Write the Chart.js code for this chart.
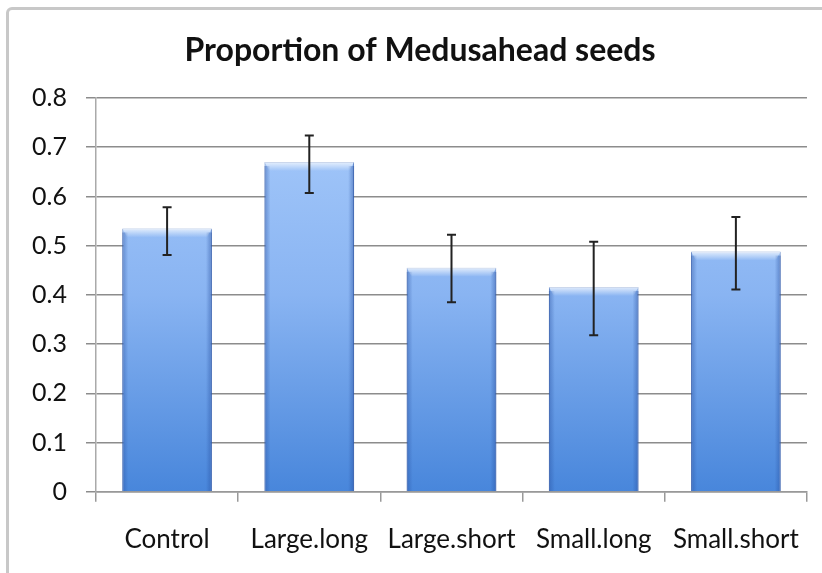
<!DOCTYPE html>
<html>
<head>
<meta charset="utf-8">
<script src="https://cdn.jsdelivr.net/npm/chart.js@4/dist/chart.umd.min.js"></script>
<style>
  html, body { margin: 0; padding: 0; background: #fff; }
  #wrap { position: relative; width: 822px; height: 573px; overflow: hidden; }
  #frame { position: absolute; left: 6px; top: 7px; width: 840px; height: 600px;
           border: 3px solid #c8c8c8; border-radius: 6px; box-sizing: border-box; }
  canvas { position: absolute; left: 0; top: 0; }
</style>
</head>
<body>
<div id="wrap">
  <div id="frame"></div>
  <canvas id="c" width="822" height="573"></canvas>
</div>
<script>
const categories = ["Control", "Large.long", "Large.short", "Small.long", "Small.short"];
const proportions = [0.535, 0.670, 0.455, 0.416, 0.488];
const errUpper = [0.578, 0.724, 0.522, 0.508, 0.558];
const errLower = [0.481, 0.607, 0.385, 0.318, 0.411];
const yTicks = [0, 0.1, 0.2, 0.3, 0.4, 0.5, 0.6, 0.7, 0.8];
const titleText = "Proportion of Medusahead seeds";

const errorBarPlugin = {
  id: 'errorBars',
  afterDatasetsDraw(chart) {
    const ctx = chart.ctx;
    const y = chart.scales.y;
    const meta = chart.getDatasetMeta(0);
    ctx.save();
    ctx.strokeStyle = '#222';
    ctx.lineWidth = 2;
    meta.data.forEach((bar, i) => {
      const x = bar.x;
      const yt = y.getPixelForValue(errUpper[i]);
      const yb = y.getPixelForValue(errLower[i]);
      ctx.beginPath();
      ctx.moveTo(x, yt); ctx.lineTo(x, yb);
      ctx.moveTo(x - 4.5, yt); ctx.lineTo(x + 4.5, yt);
      ctx.moveTo(x - 4.5, yb); ctx.lineTo(x + 4.5, yb);
      ctx.stroke();
    });
    ctx.restore();
  }
};

const bevelPlugin = {
  id: 'bevel',
  afterDatasetDraw(chart) {
    const ctx = chart.ctx;
    const meta = chart.getDatasetMeta(0);
    ctx.save();
    meta.data.forEach(bar => {
      const p = bar.getProps(['x', 'y', 'width', 'base'], true);
      const l = p.x - p.width / 2, r = p.x + p.width / 2;
      const g = ctx.createLinearGradient(0, p.y, 0, p.y + 9);
      g.addColorStop(0, 'rgba(255,255,255,0.75)');
      g.addColorStop(1, 'rgba(255,255,255,0)');
      ctx.fillStyle = g;
      ctx.beginPath();
      ctx.moveTo(l, p.y); ctx.lineTo(r, p.y); ctx.lineTo(r - 5, p.y + 9); ctx.lineTo(l + 5, p.y + 9);
      ctx.closePath(); ctx.fill();
      const gl = ctx.createLinearGradient(l, 0, l + 6, 0);
      gl.addColorStop(0, 'rgba(40,80,160,0.45)');
      gl.addColorStop(1, 'rgba(40,80,160,0)');
      ctx.fillStyle = gl;
      ctx.fillRect(l, p.y + 4, 6, p.base - p.y - 4);
      const gr = ctx.createLinearGradient(r - 6, 0, r, 0);
      gr.addColorStop(0, 'rgba(40,80,160,0)');
      gr.addColorStop(1, 'rgba(40,80,160,0.5)');
      ctx.fillStyle = gr;
      ctx.fillRect(r - 6, p.y + 4, 6, p.base - p.y - 4);
    });
    ctx.restore();
  }
};

new Chart(document.getElementById('c'), {
  type: 'bar',
  data: {
    labels: categories,
    datasets: [{
      data: proportions,
      backgroundColor(ctx) {
        const ca = ctx.chart.chartArea;
        if (!ca) return '#8ab4f0';
        const g = ctx.chart.ctx.createLinearGradient(0, ca.top, 0, ca.bottom);
        g.addColorStop(0, '#a8cbfb');
        g.addColorStop(0.5, '#89b4f2');
        g.addColorStop(1, '#4886db');
        return g;
      },
      borderColor: 'rgba(60,105,185,0.9)',
      borderWidth: 1,
      categoryPercentage: 0.63,
      barPercentage: 1.0
    }]
  },
  plugins: [bevelPlugin, errorBarPlugin],
  options: {
    responsive: false,
    animation: false,
    layout: { padding: { left: 30, right: 12, top: 0, bottom: 18 } },
    plugins: {
      legend: { display: false },
      tooltip: { enabled: false },
      title: {
        display: true,
        text: titleText,
        color: '#111',
        font: { family: 'Lato', size: 32, weight: 'bold' },
        padding: { top: 31, bottom: 28.6 }
      }
    },
    scales: {
      x: {
        afterFit(s) { s.height = 10 + 22 + 31.2; },
        grid: { drawOnChartArea: false, tickLength: 10, color: '#999', lineWidth: 1.5, offset: true },
        border: { color: '#999', width: 1.5 },
        ticks: { color: '#111', font: { family: 'Lato', size: 26 }, padding: 22, maxRotation: 0, autoSkip: false }
      },
      y: {
        min: 0, max: 0.8,
        afterFit(s) { s.width = 66; },
        afterBuildTicks(s) { s.ticks = yTicks.map(v => ({ value: v })); },
        grid: { color: '#8c8c8c', lineWidth: 1.5, tickLength: 10 },
        border: { color: '#aaa', width: 1.5 },
        ticks: { color: '#111', font: { family: 'Lato', size: 25 }, padding: 19,
                 callback: v => String(v) }
      }
    }
  }
});
</script>
</body>
</html>
